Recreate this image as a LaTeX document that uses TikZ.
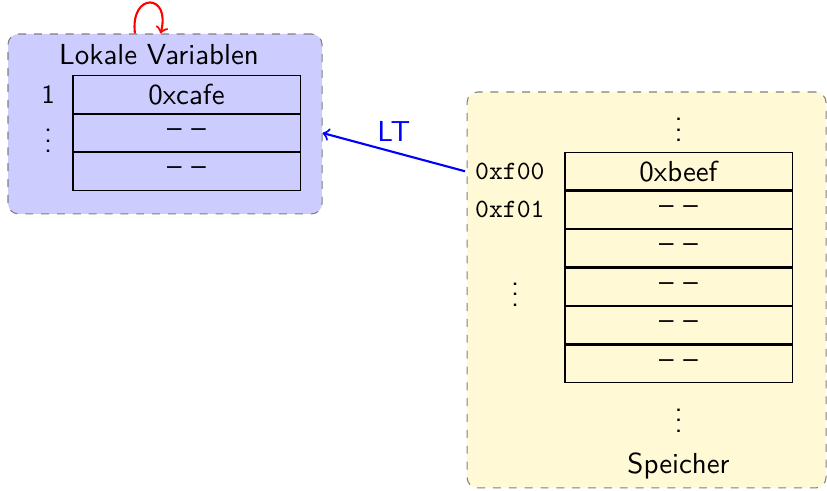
\documentclass[tikz,border=0pt,11pt]{standalone}
\usepackage{xcolor}
\usepackage{tikz}
\usetikzlibrary{positioning}

\definecolor{speicherfill}{RGB}{255,249,214}

\begin{document}
\begin{tikzpicture}[
    every node/.style={font=\sffamily},
    frame/.style={draw=gray, dashed, rounded corners=4pt},
    cell/.style={draw, minimum width=3.02cm, minimum height=0.498cm, inner sep=0pt},
    addr/.style={font=\small\ttfamily},
    arrow/.style={->, thick}
]
    \useasboundingbox (0,0) rectangle (11,-6.518);

    % Lokale Variablen
    \node[frame, fill=blue!20, minimum width=4.177cm, minimum height=2.394cm] (lokal) at (2.195,-1.649) {};
    \node[cell] (l1) at (2.481,-1.257) {0xcafe};
    \node[cell, below=0pt of l1] (l2) {-- --};
    \node[cell, below=0pt of l2] (l3) {-- --};
    \node[above=0pt of l1, xshift=-0.366cm] (ltitle) {Lokale Variablen};
    \node[left=0.1cm of l1, font=\small\sffamily] (lidx) {1};
    \node (ldots) at (lidx |- l2) {$\vdots$};

    % Speicher
    \node[frame, fill=speicherfill, minimum width=4.775cm, minimum height=5.267cm] (speicher) at (8.60,-3.857) {};
    \node[cell] (m1) at (9.025,-2.278) {0xbeef};
    \foreach \i [count=\j from 2] in {1,...,5}
        \node[cell, below=0pt of m\i] (m\j) {-- --};
    \node[addr, left=0.13cm of m1] (a0) {0xf00};
    \node[addr, left=0.13cm of m2] (a1) {0xf01};
    \node[xshift=0.07cm] (adots) at (a1 |- m4) {$\vdots$};
    \node[above=0pt of m1] (mtop) {$\vdots$};
    \node[below=0pt of m6] (mbottom) {$\vdots$};
    \node[below=0pt of mbottom] (mlabel) {Speicher};

    % Zeiger und Schleife
    \coordinate (lt) at (lokal.east |- l2);
    \draw[arrow, blue] (a0.west) -- node[midway, above] {LT} (lt);

    \coordinate[xshift=-0.4cm] (la) at (lokal.north);
    \coordinate[xshift=-0.06cm] (lb) at (lokal.north);
    \draw[arrow, red] (la) to[out=97, in=75, looseness=4.2] (lb);

\end{tikzpicture}
\end{document}
